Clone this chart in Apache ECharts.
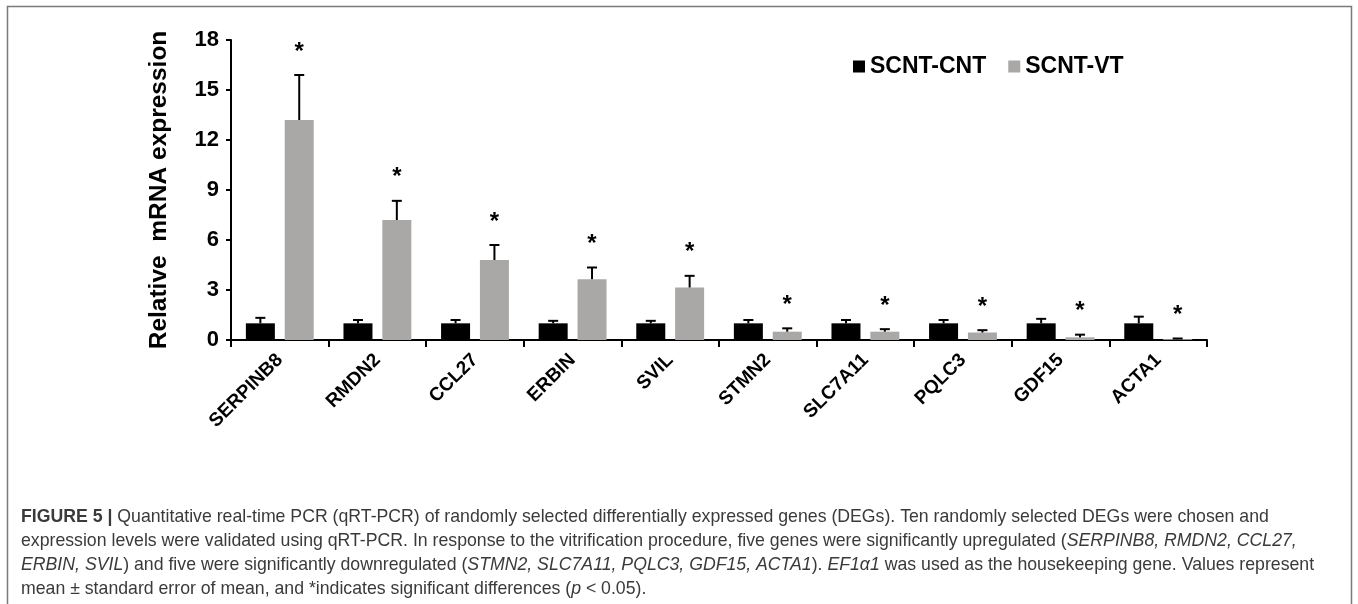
<!DOCTYPE html>
<html>
<head>
<meta charset="utf-8">
<script src="https://cdn.jsdelivr.net/npm/echarts@6/dist/echarts.min.js"></script>
<style>
html,body{margin:0;padding:0;background:#fff;}
#chart{width:1358px;height:604px;}
</style>
</head>
<body>
<div id="chart"></div>
<script>
const categories = ['SERPINB8','RMDN2','CCL27','ERBIN','SVIL','STMN2','SLC7A11','PQLC3','GDF15','ACTA1'];
const cntMean = [1, 1, 1, 1, 1, 1, 1, 1, 1, 1];
const cntErr  = [0.33, 0.2, 0.2, 0.15, 0.15, 0.2, 0.2, 0.2, 0.27, 0.4];
const vtMean  = [13.2, 7.2, 4.8, 3.65, 3.15, 0.5, 0.5, 0.45, 0.16, 0.05];
const vtErr   = [2.7, 1.15, 0.9, 0.7, 0.7, 0.2, 0.15, 0.14, 0.16, 0.04];
const vtSignificant = [true, true, true, true, true, true, true, true, true, true];
const yTicks = {min: 0, max: 18, interval: 3};
const seriesNames = ['SCNT-CNT', 'SCNT-VT'];
const yAxisTitle = 'Relative  mRNA expression';

const BAR_W = 29;
const BAR_GAP = 0.34;
const OFFSET = BAR_W * (1 + BAR_GAP) / 2;
const FONT = '"Liberation Sans", Arial, sans-serif';

function errSeries(name, means, errs, sign, stars) {
  return {
    type: 'custom',
    name: name + ' err',
    z: 5,
    silent: true,
    data: categories.map((c, i) => [i, means[i], errs[i], stars ? (stars[i] ? 1 : 0) : 0]),
    renderItem: function (params, api) {
      const i = api.value(0), m = api.value(1), e = api.value(2), s = api.value(3);
      const b = api.coord([i, m]);
      const t = api.coord([i, m + e]);
      const x = b[0] + sign * OFFSET;
      const children = [
        {type: 'line', shape: {x1: x, y1: b[1], x2: x, y2: t[1]}, style: {stroke: '#000', lineWidth: 2}},
        {type: 'line', shape: {x1: x - 5, y1: t[1], x2: x + 5, y2: t[1]}, style: {stroke: '#000', lineWidth: 2}}
      ];
      if (s) {
        children.push({type: 'text', style: {text: '*', x: x, y: t[1] - 23, align: 'center', verticalAlign: 'middle',
          font: 'bold 24px ' + FONT, fill: '#000'}});
      }
      return {type: 'group', children: children};
    }
  };
}

const CAP_SIZE = 17.7;
const capRich = {
  b: {fontWeight: 'bold', fontSize: CAP_SIZE, fontFamily: FONT, color: '#222'},
  i: {fontStyle: 'italic', fontSize: CAP_SIZE, fontFamily: FONT, color: '#3a3a3a'},
  n: {fontSize: CAP_SIZE, fontFamily: FONT, color: '#3a3a3a'}
};
const captionLines = [
  '{b|FIGURE 5 |}{n| Quantitative real-time PCR (qRT-PCR) of randomly selected differentially expressed genes (DEGs). Ten randomly selected DEGs were chosen and}',
  '{n|expression levels were validated using qRT-PCR. In response to the vitrification procedure, five genes were significantly upregulated (}{i|SERPINB8, RMDN2, CCL27,}',
  '{i|ERBIN, SVIL}{n|) and five were significantly downregulated (}{i|STMN2, SLC7A11, PQLC3, GDF15, ACTA1}{n|). }{i|EF1α1}{n| was used as the housekeeping gene. Values represent}',
  '{n|mean ± standard error of mean, and *indicates significant differences (}{i|p}{n| < 0.05).}'
];

const graphics = [
  {type: 'rect', shape: {x: 7.5, y: 6.5, width: 1344, height: 700}, style: {fill: 'none', stroke: '#7a7a7a', lineWidth: 1.5}, silent: true}
].concat(captionLines.map((t, k) => ({
  type: 'text', left: 21, top: 508 + k * 24,
  style: {text: t, rich: capRich, fontSize: CAP_SIZE, fontFamily: FONT, fill: '#3a3a3a'}
})));

const chart = echarts.init(document.getElementById('chart'));
chart.setOption({
  animation: false,
  backgroundColor: '#fff',
  grid: {left: 231, right: 151, top: 40, bottom: 264, containLabel: false},
  legend: {
    data: seriesNames, left: 848, top: 50, itemWidth: 12, itemHeight: 12, itemGap: 22, icon: 'rect',
    textStyle: {fontFamily: FONT, fontWeight: 'bold', fontSize: 23, color: '#000'}
  },
  xAxis: {
    type: 'category', data: categories,
    axisLine: {lineStyle: {color: '#000', width: 2}},
    axisTick: {show: true, length: 7, lineStyle: {color: '#000', width: 2}},
    axisLabel: {rotate: 45, interval: 0, margin: 17, color: '#000', fontWeight: 'bold', fontSize: 19, fontFamily: FONT}
  },
  yAxis: {
    type: 'value', min: yTicks.min, max: yTicks.max, interval: yTicks.interval,
    name: yAxisTitle, nameLocation: 'middle', nameGap: 59,
    nameTextStyle: {fontFamily: FONT, fontWeight: 'bold', fontSize: 24.5, color: '#000'},
    axisLine: {show: true, lineStyle: {color: '#000', width: 2}},
    axisTick: {show: true, length: 5, lineStyle: {color: '#000', width: 2}},
    axisLabel: {color: '#000', fontWeight: 'bold', fontSize: 22, margin: 12, fontFamily: FONT},
    splitLine: {show: false}
  },
  series: [
    {name: seriesNames[0], type: 'bar', data: cntMean, barWidth: BAR_W, barGap: (BAR_GAP * 100) + '%', itemStyle: {color: '#000'}},
    {name: seriesNames[1], type: 'bar', data: vtMean, barWidth: BAR_W, itemStyle: {color: '#aaa7a7'}},
    errSeries(seriesNames[0], cntMean, cntErr, -1, null),
    errSeries(seriesNames[1], vtMean, vtErr, 1, vtSignificant)
  ],
  graphic: graphics
});
</script>
</body>
</html>
